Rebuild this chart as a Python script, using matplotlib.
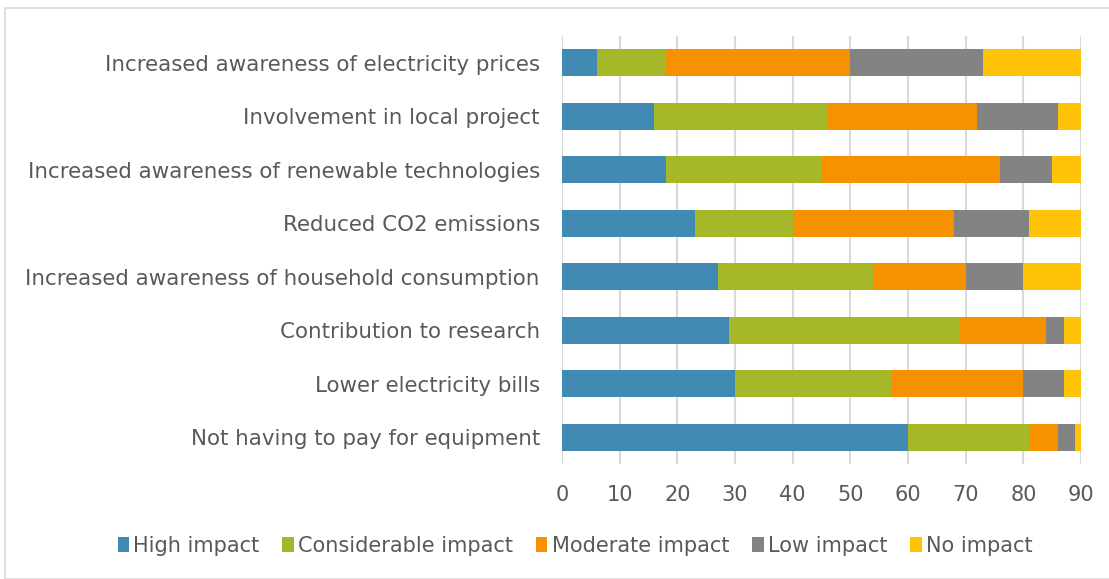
import matplotlib
matplotlib.use("Agg")
import matplotlib.pyplot as plt
import numpy as np
from matplotlib.patches import Rectangle

categories = [
    "Increased awareness of electricity prices",
    "Involvement in local project",
    "Increased awareness of renewable technologies",
    "Reduced CO2 emissions",
    "Increased awareness of household consumption",
    "Contribution to research",
    "Lower electricity bills",
    "Not having to pay for equipment",
]
series_names = ["High impact", "Considerable impact", "Moderate impact", "Low impact", "No impact"]
high = [6, 16, 18, 23, 27, 29, 30, 60]
considerable = [12, 30, 27, 17, 27, 40, 27, 21]
moderate = [32, 26, 31, 28, 16, 15, 23, 5]
low = [23, 14, 9, 13, 10, 3, 7, 3]
no_impact = [17, 4, 5, 9, 10, 3, 3, 1]
xticks = [0, 10, 20, 30, 40, 50, 60, 70, 80, 90]

colors = ["#418AB3", "#A6B727", "#F69200", "#838383", "#FEC306"]
plt.rcParams['font.family'] = ['DejaVu Sans']
FS = 15.4

fig = plt.figure(figsize=(11.09, 5.79), dpi=100)
ax = fig.add_axes([562/1109, 1-464/579, (1081-562)/1109, (464-36)/579])

y = np.arange(len(categories))
left = np.zeros(len(categories))
for name, vals, c in zip(series_names, [high, considerable, moderate, low, no_impact], colors):
    ax.barh(y, vals, left=left, height=0.5, color=c, label=name, zorder=3)
    left += np.array(vals)

ax.set_ylim(len(categories) - 0.5, -0.5)
ax.set_xlim(0, 90)
ax.set_xticks(xticks)
ax.set_yticks(y)
ax.set_yticklabels(categories, fontsize=FS, color="#595959")
ax.tick_params(axis='x', labelsize=15, labelcolor="#595959", length=0, pad=15)
ax.tick_params(axis='y', length=0, pad=16)
ax.grid(axis='x', color="#D9D9D9", linewidth=1.5, zorder=0)
for s in ax.spines.values():
    s.set_visible(False)

leg = fig.legend(loc='center', bbox_to_anchor=(575/1109, 1-546/579), ncol=5, frameon=False,
                 fontsize=15, handlelength=0.55, handleheight=0.75, handletextpad=0.2,
                 columnspacing=1.1, labelcolor="#595959")

fig.patches.append(Rectangle((5/1109, 0), 1.2, 1-8/579, transform=fig.transFigure,
                             fill=False, edgecolor="#D9D9D9", linewidth=1.2))

fig.savefig("out.png", dpi=100)
